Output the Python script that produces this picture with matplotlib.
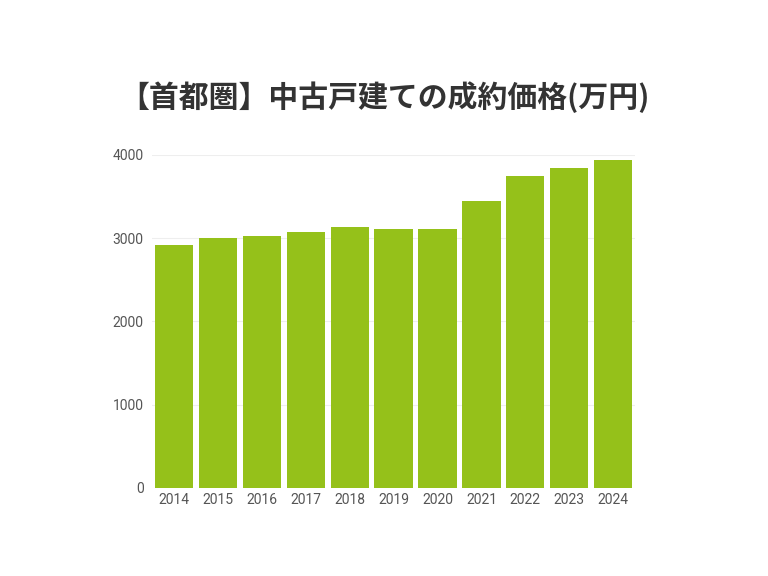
import matplotlib.pyplot as plt
import numpy as np

plt.rcParams["font.family"] = ["Noto Sans CJK JP", "DejaVu Sans"]

# === Data ===
years = ["2014", "2015", "2016", "2017", "2018", "2019", "2020", "2021", "2022", "2023", "2024"]
prices = [2915, 3007, 3027, 3071, 3135, 3111, 3107, 3447, 3748, 3844, 3940]  # 万円
y_ticks = [0, 1000, 2000, 3000, 4000]

BAR_COLOR = "#95C11A"
TICK_COLOR = "#555555"

fig = plt.figure(figsize=(7.68, 5.76), dpi=100)
ax = fig.add_axes([0.198, 0.153, 0.629, 0.578])

x = np.arange(len(years))
ax.bar(x, prices, width=0.87, color=BAR_COLOR, zorder=2)

ax.set_xlim(-0.5, len(years) - 0.5)
ax.set_ylim(0, 4000)
ax.set_xticks(x)
ax.set_xticklabels(years, family="Roboto")
ax.set_yticks(y_ticks)
ax.set_yticklabels([str(v) for v in y_ticks], family="Roboto")
ax.tick_params(length=0, labelsize=10, colors=TICK_COLOR)
ax.tick_params(axis="y", pad=6)
ax.tick_params(axis="x", pad=4)

for s in ax.spines.values():
    s.set_visible(False)
ax.grid(True, axis="y", color="#EEEEEE", linewidth=0.8, zorder=0)
ax.set_axisbelow(True)

fig.text(0.5, 0.832, "【首都圏】中古戸建ての成約価格(万円)", ha="center", va="center",
         fontsize=21.5, fontweight="bold", color="#333333")

fig.savefig("out.png", dpi=100, facecolor="white")
